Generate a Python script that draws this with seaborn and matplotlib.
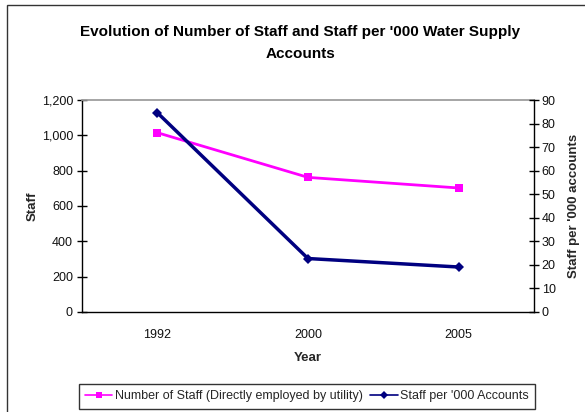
import numpy as np
import pandas as pd
import matplotlib
matplotlib.use("Agg")
import matplotlib.pyplot as plt
from matplotlib.patches import Rectangle
import seaborn as sns

# Data
years = ["1992", "2000", "2005"]
staff = [1015, 762, 702]
staff_per_1000 = [84.6, 22.7, 19.1]
staff_ticks = [0, 200, 400, 600, 800, 1000, 1200]
ratio_ticks = [0, 10, 20, 30, 40, 50, 60, 70, 80, 90]

sns.set_theme(style="white")
plt.rcParams["font.family"] = ["Liberation Sans", "DejaVu Sans"]

W, H = 585, 412
fig = plt.figure(figsize=(W / 100, H / 100), dpi=100)
fig.patch.set_facecolor("white")

# chart frame
fig.patches.append(Rectangle((7 / W, -0.05), 1.2, 1 - 5 / H + 0.05,
                             transform=fig.transFigure, fill=False,
                             edgecolor="#333333", linewidth=1.0))

left, right, top, bottom = 82, 534, 100, 312
ax = fig.add_axes([left / W, 1 - bottom / H, (right - left) / W, (bottom - top) / H])
ax2 = ax.twinx()

df = pd.DataFrame({"pos": np.arange(len(years)), "year": years,
                   "staff": staff, "ratio": staff_per_1000})

sns.lineplot(data=df, x="pos", y="staff", ax=ax, color="#FF00FF", marker="s",
             markersize=6, markeredgewidth=0, linewidth=2,
             label="Number of Staff (Directly employed by utility)", legend=False)
sns.lineplot(data=df, x="pos", y="ratio", ax=ax2, color="#000080", marker="D",
             markersize=5, markeredgewidth=0, linewidth=2.5,
             label="Staff per '000 Accounts", legend=False)

n = len(years)
ax.set_xlim(-0.5, n - 0.5)
ax.set_ylim(staff_ticks[0], staff_ticks[-1])
ax2.set_ylim(ratio_ticks[0], ratio_ticks[-1])

# category boundaries carry the tick marks, labels sit in the middle
ax.set_xticks(np.arange(-0.5, n, 1.0))
ax.set_xticklabels([])
ax.set_xticks(np.arange(n), minor=True)
ax.set_xticklabels(years, minor=True)
ax.tick_params(axis="x", which="major", direction="inout", length=7, width=1,
               color="black")
ax.tick_params(axis="x", which="minor", length=0, labelsize=9, pad=12,
               colors="#111111")

ax.set_yticks(staff_ticks)
ax.set_yticklabels([f"{v:,}" for v in staff_ticks])
ax.tick_params(axis="y", direction="inout", length=7, width=1, labelsize=9,
               color="black", labelcolor="#111111", pad=3, left=True)
ax2.set_yticks(ratio_ticks)
ax2.tick_params(axis="y", direction="inout", length=7, width=1, labelsize=9,
                color="black", labelcolor="#111111", pad=2, right=True)

for a in (ax, ax2):
    for s in a.spines.values():
        s.set_visible(False)
ax.spines["left"].set_visible(True)
ax.spines["bottom"].set_visible(True)
ax.spines["top"].set_visible(True)
ax.spines["top"].set_color("#9a9a9a")
ax2.spines["right"].set_visible(True)
for s in ("left", "bottom"):
    ax.spines[s].set_color("black")
    ax.spines[s].set_linewidth(1.0)
ax2.spines["right"].set_color("black")
ax2.spines["right"].set_linewidth(1.0)
ax.grid(False)
ax2.grid(False)

ax.set_xlabel("Year", fontsize=9.5, fontweight="bold", labelpad=8)
ax.set_ylabel("Staff", fontsize=9.5, fontweight="bold", labelpad=2)
ax2.set_ylabel("Staff per '000 accounts", fontsize=9.5, fontweight="bold",
               labelpad=9)

fig.text(300 / W, 1 - 43 / H,
         "Evolution of Number of Staff and Staff per '000 Water Supply\nAccounts",
         ha="center", va="center", fontsize=11, fontweight="bold",
         linespacing=1.75, color="black")

handles = ax.get_lines()[:1] + ax2.get_lines()[:1]
labels = [h.get_label() for h in handles]
leg = fig.legend(handles, labels, loc="center", ncol=2,
                 bbox_to_anchor=(307 / W, 1 - 396.5 / H), fontsize=9,
                 frameon=True, fancybox=False, edgecolor="black",
                 handlelength=2.2, handletextpad=0.2, columnspacing=0.6,
                 borderpad=0.5, borderaxespad=0, markerscale=0.8)
leg.get_frame().set_linewidth(1.0)
for h in leg.legend_handles:
    h.set_linewidth(1.2)

fig.savefig("out.png", dpi=100, facecolor="white")
